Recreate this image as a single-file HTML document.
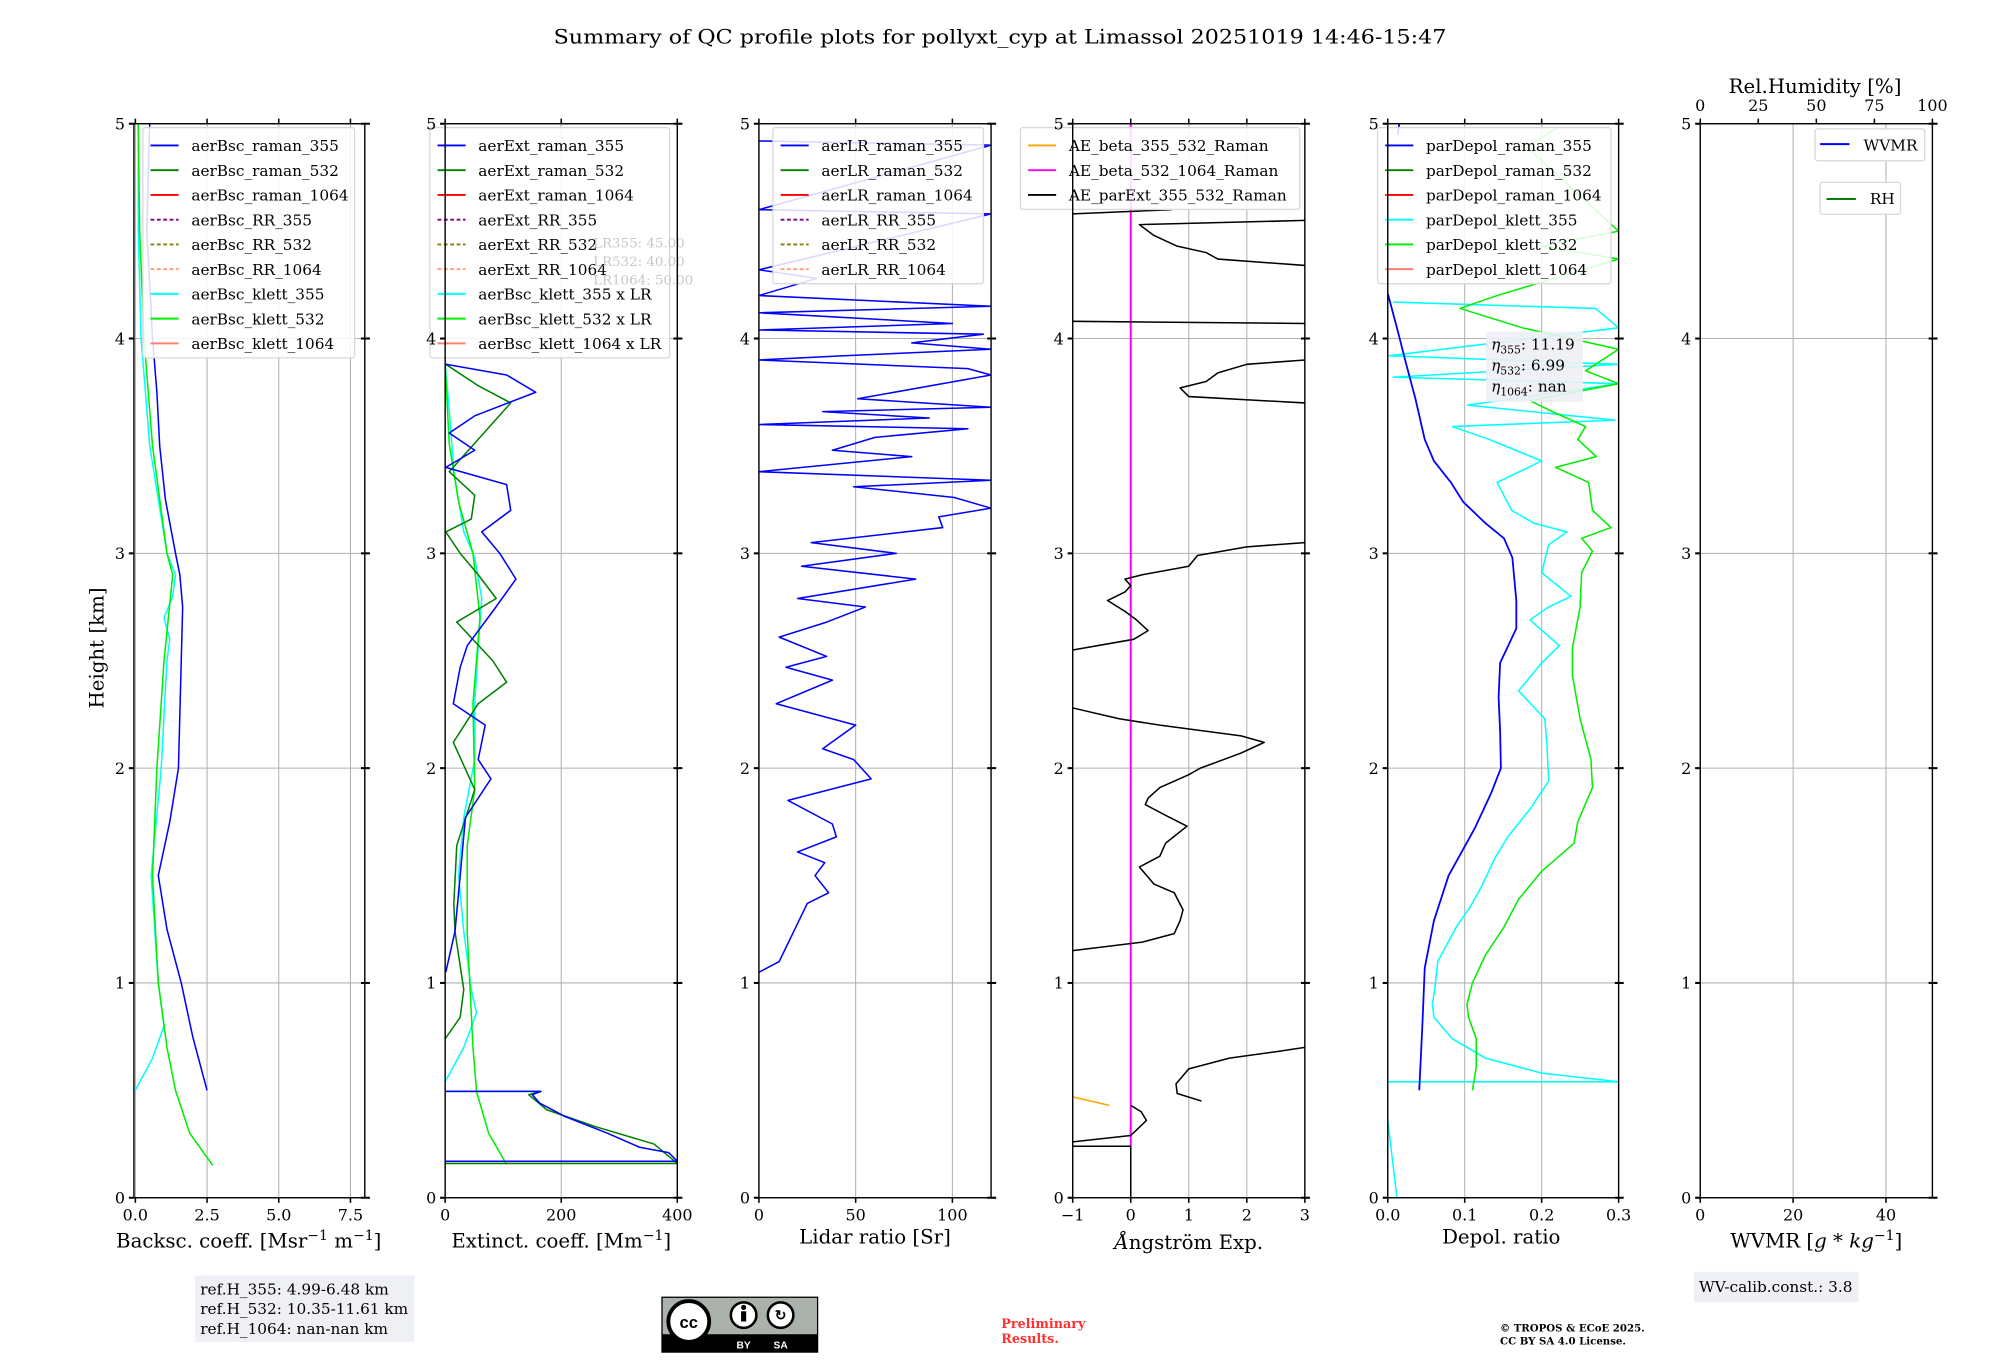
<!DOCTYPE html>
<html><head><meta charset="utf-8"><style>
html,body{margin:0;padding:0;background:#fff;}
svg{display:block;font-family:"DejaVu Serif","Liberation Serif",serif;}
</style></head><body>
<svg id="fig" width="2000" height="1360" viewBox="0 0 1568 1066.2" preserveAspectRatio="none" xmlns="http://www.w3.org/2000/svg">
<text x="784" y="34" font-size="15.5" text-anchor="middle" textLength="700" lengthAdjust="spacingAndGlyphs">Summary of QC profile plots for pollyxt_cyp at Limassol 20251019 14:46-15:47</text>
<text transform="translate(81,508) rotate(-90)" font-size="15.5" text-anchor="middle">Height [km]</text>
<g id="plots"></g>
<text x="1423" y="73" font-size="15.5" text-anchor="middle">Rel.Humidity [%]</text>
<text x="195" y="978" font-size="15.5" text-anchor="middle">Backsc. coeff. [Msr<tspan dy="-6" font-size="11">−1</tspan><tspan dy="6"> m</tspan><tspan dy="-6" font-size="11">−1</tspan><tspan dy="6">]</tspan></text>
<text x="440" y="978" font-size="15.5" text-anchor="middle">Extinct. coeff. [Mm<tspan dy="-6" font-size="11">−1</tspan><tspan dy="6">]</tspan></text>
<text x="686" y="975" font-size="15.5" text-anchor="middle">Lidar ratio [Sr]</text>
<text x="932" y="979" font-size="15.5" text-anchor="middle"><tspan font-style="italic">Å</tspan>ngström Exp.</text>
<text x="1177" y="975" font-size="15.5" text-anchor="middle">Depol. ratio</text>
<text x="1424" y="978" font-size="15.5" text-anchor="middle">WVMR [<tspan font-style="italic">g</tspan> * <tspan font-style="italic">kg</tspan><tspan dy="-6" font-size="11">−1</tspan><tspan dy="6">]</tspan></text>
<g>
<rect x="153" y="1000" width="172" height="52" fill="#eef0f5"/>
<text x="157" y="1015" font-size="12">ref.H_355: 4.99-6.48 km</text>
<text x="157" y="1030" font-size="12">ref.H_532: 10.35-11.61 km</text>
<text x="157" y="1046" font-size="12">ref.H_1064: nan-nan km</text>
</g>
<g>
<rect x="519" y="1017" width="122" height="43" fill="#aab2ab" stroke="#000" stroke-width="1"/>
<rect x="519" y="1046" width="122" height="14" fill="#000"/>
<circle cx="540" cy="1036" r="16" fill="#fff" stroke="#000" stroke-width="3"/>
<text x="540" y="1041" font-size="13" font-weight="bold" text-anchor="middle" font-family="Liberation Sans,sans-serif">cc</text>
<circle cx="583" cy="1031" r="10" fill="#fff" stroke="#000" stroke-width="2"/>
<circle cx="583" cy="1025" r="2" fill="#000"/><rect x="581" y="1028" width="4" height="8" fill="#000"/>
<circle cx="612" cy="1031" r="10" fill="#fff" stroke="#000" stroke-width="2"/>
<text x="612" y="1035" font-size="11" font-weight="bold" text-anchor="middle" font-family="Liberation Sans,sans-serif">↻</text>
<text x="583" y="1057" font-size="8" fill="#fff" text-anchor="middle" font-family="Liberation Sans,sans-serif" font-weight="bold">BY</text>
<text x="612" y="1057" font-size="8" fill="#fff" text-anchor="middle" font-family="Liberation Sans,sans-serif" font-weight="bold">SA</text>
</g>
<text x="785" y="1041" font-size="10" font-weight="bold" fill="#ff3030">Preliminary</text>
<text x="785" y="1053" font-size="10" font-weight="bold" fill="#ff3030">Results.</text>
<text x="1176" y="1044" font-size="8" font-weight="bold">© TROPOS &amp; ECoE 2025.</text>
<text x="1176" y="1054" font-size="8" font-weight="bold">CC BY SA 4.0 License.</text>
<g>
<rect x="1328" y="997" width="129" height="24" fill="#eef0f5"/>
<text x="1332" y="1013" font-size="12">WV-calib.const.: 3.8</text>
</g>
</svg>
<script>
// ---- data ----
const bscRaman355H=[0.5,0.75,1.0,1.25,1.5,1.75,2.0,2.25,2.5,2.75,2.9,3.0,3.25,3.5,3.75,4.0,4.25,4.5,4.75,5.0];
const bscRaman355V=[2.5,2.0,1.6,1.1,0.8,1.2,1.5,1.55,1.6,1.65,1.55,1.4,1.05,0.85,0.75,0.6,0.5,0.4,0.45,0.5];
const bscKlett355H=[0.5,0.65,0.8,1.0,1.5,2.0,2.5,2.6,2.7,2.8,2.9,3.0,3.5,4.0,4.5,5.0];
const bscKlett355V=[0.0,0.6,1.0,0.8,0.55,0.9,1.1,1.2,1.0,1.3,1.4,1.1,0.5,0.2,0.1,0.1];
const bscKlett532H=[0.15,0.3,0.5,0.7,1.0,1.5,2.0,2.5,2.9,3.0,3.5,4.0,4.5,5.0];
const bscKlett532V=[2.7,1.9,1.4,1.1,0.8,0.6,0.75,1.0,1.3,1.1,0.6,0.3,0.15,0.1];

const ext355H=[0.17,0.17,0.21,0.235,0.3,0.38,0.44,0.48,0.495,0.495,null,1.05,1.24,1.5,1.77,1.95,2.04,2.2,2.3,2.47,2.57,2.73,2.88,3.0,3.1,3.2,3.32,3.4,3.48,3.56,3.64,3.75,3.83,3.88];
const ext355V=[0,400,385,335,280,205,163,150,165,0,null,1,17,26,35,79,57,69,14,26,38,82,122,94,63,113,106,1,51,7,51,156,106,1];
const ext532H=[0.16,0.16,0.25,0.33,0.41,0.48,0.495,0.495,null,0.74,0.84,0.97,1.24,1.37,1.64,1.9,2.12,2.3,2.4,2.5,2.68,2.79,2.9,3.0,3.1,3.16,3.27,3.38,3.7,3.78,3.88];
const ext532V=[0,400,360,260,175,144,165,0,null,0,26,32,17,15,20,51,14,57,106,82,20,88,57,26,1,45,51,7,113,57,1];
const extKlett355H=[0.54,0.7,0.86,0.97,1.24,1.5,1.77,2.04,2.3,2.57,2.79,2.98,3.1,3.38,3.64,3.88];
const extKlett355V=[0,32,54,45,32,23,32,51,51,57,63,51,32,15,8,0];
const extKlett532H=[0.155,0.3,0.495,0.7,1.24,1.64,1.9,2.3,2.7,3.0,3.24,3.51,3.88];
const extKlett532V=[106,75,54,48,38,38,51,48,60,48,23,7,0];

const lr355H=[1.05,1.1,1.24,1.37,1.42,1.5,1.56,1.61,1.68,1.74,1.85,1.95,2.04,2.09,2.2,2.3,2.41,2.47,2.52,2.61,2.68,2.75,2.79,2.88,2.94,3.0,3.05,3.12,3.17,3.21,3.26,3.31,3.34,3.38,3.45,3.48,3.54,3.58,3.6,3.63,3.66,3.68,3.72,3.83,3.86,3.9,3.92,3.95,3.98,4.02,4.04,4.07,4.12,4.15,4.2,4.28,4.32,4.58,4.6,4.9,4.92];
const lr355V=[0,10.5,18,25,36,29,34,20,40,38,15,58,49,33,50,9,38,14,35,10.5,35,55,20,81,22,71,27,95,93,120,101,49,120,0,79,38,60,108,0,88,33,120,51,120,108,0,44,120,79,116,0,100,0,120,0,30,0,120,0,120,0];

const aeH=[0.0,0.24,0.24,null,0.26,0.29,0.36,0.4,0.43,null,0.45,0.485,0.53,0.6,0.65,0.68,0.7,null,1.15,1.19,1.23,1.29,1.34,1.42,1.46,1.54,1.59,1.65,1.73,1.78,1.83,1.86,1.91,1.97,2.0,2.07,2.12,2.15,2.2,2.23,2.28,null,2.55,2.6,2.64,2.69,2.73,2.78,2.82,2.85,2.88,2.9,2.94,2.99,3.03,3.05,null,3.7,3.73,3.77,3.8,3.84,3.88,3.9,null,4.08,4.07,null,4.34,4.37,4.4,4.43,4.48,4.53,4.55,null,4.58,4.6];
const aeV=[0.0,0.0,-1,null,-1,0.0,0.27,0.18,0.0,null,1.22,0.8,0.78,1.0,1.7,2.5,3,null,-1,0.2,0.75,0.85,0.9,0.75,0.4,0.15,0.5,0.6,0.97,0.6,0.25,0.3,0.5,1.0,1.2,1.9,2.3,1.9,0.5,-0.2,-1,null,-1,0.05,0.3,0.1,-0.1,-0.4,-0.1,0.0,-0.1,0.2,1.0,1.15,2.0,3,null,3,1.0,0.85,1.3,1.5,2.0,3,null,-1,3,null,3,1.5,1.3,0.8,0.4,0.15,3,null,-1,0.7];
const aeBeta355H=[0.47,0.43];
const aeBeta355V=[-1,-0.37];
const aeBeta532H=[0.24,5.0];
const aeBeta532V=[0,0];

const dep355H=[0.5,0.81,1.07,1.29,1.5,1.72,1.88,2.0,2.17,2.33,2.49,2.65,2.78,2.98,3.07,3.14,3.24,3.33,3.43,3.53,3.72,3.88,4.05,4.21,null,4.95,5.0];
const dep355V=[0.041,0.045,0.048,0.06,0.079,0.113,0.134,0.147,0.146,0.144,0.146,0.167,0.167,0.162,0.151,0.127,0.098,0.082,0.06,0.048,0.036,0.024,0.012,0,null,0.013,0.015];
const depK355H=[0,0.36,null,0.54,0.54,0.58,0.65,0.74,0.84,0.9,0.97,1.1,1.26,1.36,1.45,1.58,1.68,1.81,1.94,2.1,2.23,2.36,2.49,2.57,2.69,2.75,2.8,2.91,3.04,3.1,3.14,3.2,3.33,3.43,3.53,3.59,3.62,3.69,3.79,3.82,3.88,3.92,4.05,4.14,4.17];
const depK355V=[0.012,0,null,0,0.3,0.2,0.127,0.084,0.06,0.058,0.061,0.065,0.089,0.108,0.122,0.139,0.156,0.185,0.209,0.207,0.204,0.17,0.2,0.223,0.185,0.209,0.238,0.2,0.209,0.233,0.19,0.161,0.142,0.2,0.132,0.084,0.295,0.104,0.3,0.007,0.3,0.002,0.3,0.27,0.007];
const depK532H=[0.5,0.61,0.74,0.84,0.9,1.0,1.13,1.26,1.39,1.52,1.65,1.75,1.91,2.04,2.23,2.43,2.56,2.75,2.91,3.01,3.07,3.12,3.2,3.33,3.4,3.45,3.53,3.59,3.66,3.71,3.79,3.85,3.95,4.05,4.14,4.2,4.37,4.43,4.5,4.89,4.98];
const depK532V=[0.11,0.115,0.115,0.105,0.103,0.11,0.127,0.151,0.17,0.2,0.242,0.247,0.266,0.264,0.25,0.24,0.24,0.25,0.252,0.266,0.252,0.29,0.266,0.261,0.218,0.271,0.247,0.257,0.214,0.185,0.3,0.257,0.3,0.175,0.094,0.142,0.3,0.2,0.3,0.181,0.219];

// ---- axes config ----
const xTicks=[[0,2.5,5,7.5],[0,200,400],[0,50,100],[-1,0,1,2,3],[0,0.1,0.2,0.3],[0,20,40]];
const xTickLabels=[["0.0","2.5","5.0","7.5"],["0","200","400"],["0","50","100"],["−1","0","1","2","3"],["0.0","0.1","0.2","0.3"],["0","20","40"]];
const yTicks=[0,1,2,3,4,5];
const rhTicks=[0,25,50,75,100];

const NS="http://www.w3.org/2000/svg";
const root=document.getElementById('plots');
const panels=[{l:105,r:286,mn:-0.05,mx:8},{l:349,r:531,mn:0,mx:400},{l:595,r:777,mn:0,mx:120},{l:841,r:1023,mn:-1,mx:3},{l:1088,r:1269,mn:0,mx:0.3},{l:1333,r:1515,mn:0,mx:50}];
const TOP=97,BOT=939;
function yS(h){return BOT-(h/5)*(BOT-TOP);}
function xS(p,v){return p.l+(v-p.mn)/(p.mx-p.mn)*(p.r-p.l);}
function mk(tag,attrs,parent){const e=document.createElementNS(NS,tag);for(const k in attrs)e.setAttribute(k,attrs[k]);(parent||root).appendChild(e);return e;}

const panelNames=['backscatter','extinction','lidar-ratio','angstrom','depol','wvmr'];
const groups=[];
panels.forEach((p,i)=>{
  const g=mk('g',{});
  
  
  const cp=mk('clipPath',{id:'clip'+i},g);
  mk('rect',{x:p.l,y:TOP,width:p.r-p.l,height:BOT-TOP},cp);
  // grid
  xTicks[i].forEach(v=>{const x=xS(p,v);mk('line',{x1:x,x2:x,y1:TOP,y2:BOT,stroke:'#b0b0b0','stroke-width':0.8},g);});
  yTicks.forEach(h=>{mk('line',{x1:p.l,x2:p.r,y1:yS(h),y2:yS(h),stroke:'#b0b0b0','stroke-width':0.8},g);});
  groups.push(g);
});

function series(pi,H,V,color,name,w){
  const p=panels[pi];
  let d='',pen=false;
  for(let k=0;k<H.length;k++){
    if(H[k]===null||V[k]===null){pen=false;continue;}
    d+=(pen?'L':'M')+xS(p,V[k]).toFixed(1)+' '+yS(H[k]).toFixed(1);pen=true;
  }
  const e=mk('path',{d:d,fill:'none',stroke:color,'stroke-width':w||1.2,'clip-path':'url(#clip'+pi+')','stroke-linejoin':'round'},groups[pi]);
  
  
}
series(0,bscKlett355H,bscKlett355V,'#00ffff','bsc-klett-355');
series(0,bscKlett532H,bscKlett532V,'#00ee00','bsc-klett-532');
series(0,bscRaman355H,bscRaman355V,'#0000ff','bsc-raman-355');
series(1,extKlett355H,extKlett355V,'#00ffff','ext-klett-355');
series(1,extKlett532H,extKlett532V,'#00ee00','ext-klett-532');
series(1,ext532H,ext532V,'#008000','ext-raman-532');
series(1,ext355H,ext355V,'#0000ff','ext-raman-355');
series(2,lr355H,lr355V,'#0000ff','lr-raman-355');
series(3,aeBeta532H,aeBeta532V,'#ff00ff','ae-beta-532-1064',1.6);
series(3,aeBeta355H,aeBeta355V,'#ffa500','ae-beta-355-532');
series(3,aeH,aeV,'#000000','ae-parext-355-532');
series(4,depK355H,depK355V,'#00ffff','depol-klett-355');
series(4,depK532H,depK532V,'#00ee00','depol-klett-532');
series(4,dep355H,dep355V,'#0000ff','depol-raman-355',1.4);

function legend(pi,x,y,w,entries,name){
  const g=mk('g',{},groups[pi]);
  
  
  mk('rect',{x:x,y:y,width:w,height:entries.length*19.4+6,rx:2,fill:'#fff','fill-opacity':0.85,stroke:'#d8d8d8'},g);
  entries.forEach((en,k)=>{
    const yy=y+14+k*19.4;
    const a={x1:x+6,x2:x+28,y1:yy,y2:yy,stroke:en[1],'stroke-width':1.5};
    if(en[2])a['stroke-dasharray']='3,2';
    mk('line',a,g);
    const t=mk('text',{x:x+38,y:yy+4.5,'font-size':12},g);
    t.textContent=en[0];
  });
}
legend(0,112,100,166,[['aerBsc_raman_355','#0000ff'],['aerBsc_raman_532','#008000'],['aerBsc_raman_1064','#ff0000'],['aerBsc_RR_355','#800080',1],['aerBsc_RR_532','#808000',1],['aerBsc_RR_1064','#ffa07a',1],['aerBsc_klett_355','#00ffff'],['aerBsc_klett_532','#00ee00'],['aerBsc_klett_1064','#fa8072']],'backscatter-legend');
legend(1,337,100,188,[['aerExt_raman_355','#0000ff'],['aerExt_raman_532','#008000'],['aerExt_raman_1064','#ff0000'],['aerExt_RR_355','#800080',1],['aerExt_RR_532','#808000',1],['aerExt_RR_1064','#ffa07a',1],['aerBsc_klett_355 x LR','#00ffff'],['aerBsc_klett_532 x LR','#00ee00'],['aerBsc_klett_1064 x LR','#fa8072']],'extinction-legend');
legend(2,606,100,165,[['aerLR_raman_355','#0000ff'],['aerLR_raman_532','#008000'],['aerLR_raman_1064','#ff0000'],['aerLR_RR_355','#800080',1],['aerLR_RR_532','#808000',1],['aerLR_RR_1064','#ffa07a',1]],'lidar-ratio-legend');
legend(3,800,100,219,[['AE_beta_355_532_Raman','#ffa500'],['AE_beta_532_1064_Raman','#ff00ff'],['AE_parExt_355_532_Raman','#000000']],'angstrom-legend');
legend(4,1080,100,183,[['parDepol_raman_355','#0000ff'],['parDepol_raman_532','#008000'],['parDepol_raman_1064','#ff0000'],['parDepol_klett_355','#00ffff'],['parDepol_klett_532','#00ee00'],['parDepol_klett_1064','#fa8072']],'depol-legend');
// WVMR / RH legends
(function(){
  const g5=groups[5];
  const a=mk('g',{},g5);
  
  
  mk('rect',{x:1423,y:101,width:86,height:25,rx:2,fill:'#fff',stroke:'#d8d8d8'},a);
  mk('line',{x1:1427,x2:1450,y1:113,y2:113,stroke:'#0000ff','stroke-width':1.5},a);
  const t1=mk('text',{x:1461,y:118,'font-size':12},a);t1.textContent='WVMR';
  const b=mk('g',{},g5);
  
  
  mk('rect',{x:1427,y:143,width:63,height:25,rx:2,fill:'#fff',stroke:'#d8d8d8'},b);
  mk('line',{x1:1432,x2:1455,y1:156,y2:156,stroke:'#008000','stroke-width':1.5},b);
  const t2=mk('text',{x:1466,y:160,'font-size':12},b);t2.textContent='RH';
})();
// LR text box
(function(){
  const g=mk('g',{},groups[1]);
  
  
  ['LR355: 45.00','LR532: 40.00','LR1064: 50.00'].forEach((s,k)=>{const t=mk('text',{x:465,y:194+k*14.5,'font-size':10.5,fill:'#c8c8c8'},g);t.textContent=s;});
})();
// eta box
(function(){
  const g=mk('g',{},groups[4]);
  
  
  mk('rect',{x:1165,y:260,width:76,height:55,fill:'#eef0f5','fill-opacity':0.9},g);
  [['355',': 11.19'],['532',': 6.99'],['1064',': nan']].forEach((s,k)=>{
    const t=mk('text',{x:1169,y:274+k*16.5,'font-size':12},g);
    const a=document.createElementNS(NS,'tspan');a.setAttribute('font-style','italic');a.textContent='η';t.appendChild(a);
    const b=document.createElementNS(NS,'tspan');b.setAttribute('font-size','8.5');b.setAttribute('dy','3');b.textContent=s[0];t.appendChild(b);
    const c=document.createElementNS(NS,'tspan');c.setAttribute('dy','-3');c.textContent=s[1];t.appendChild(c);
  });
})();
// axes frames and ticks
panels.forEach((p,i)=>{
  const g=mk('g',{},groups[i]);
  
  
  mk('rect',{x:p.l,y:TOP,width:p.r-p.l,height:BOT-TOP,fill:'none',stroke:'#000','stroke-width':1.1},g);
  yTicks.forEach(h=>{
    const y=yS(h);
    mk('line',{x1:p.l-4,x2:p.l,y1:y,y2:y,stroke:'#000','stroke-width':1.6},g);
    mk('line',{x1:p.r-3,x2:p.r+4,y1:y,y2:y,stroke:'#000','stroke-width':1.6},g);
    const t=mk('text',{x:p.l-7,y:y+4.5,'font-size':12.5,'text-anchor':'end'},g);
    t.textContent=String(h);
  });
  xTicks[i].forEach((v,k)=>{
    const x=xS(p,v);
    mk('line',{x1:x,x2:x,y1:BOT,y2:BOT+4,stroke:'#000','stroke-width':1.2},g);
    if(i<5) mk('line',{x1:x,x2:x,y1:TOP-4,y2:TOP,stroke:'#000','stroke-width':1.2},g);
    const t=mk('text',{x:x,y:BOT+18,'font-size':12.5,'text-anchor':'middle'},g);
    t.textContent=xTickLabels[i][k];
  });
  if(i===5){
    rhTicks.forEach(v=>{
      const x=p.l+v/100*(p.r-p.l);
      mk('line',{x1:x,x2:x,y1:TOP-4,y2:TOP,stroke:'#000','stroke-width':1.2},g);
      const t=mk('text',{x:x,y:TOP-10,'font-size':12.5,'text-anchor':'middle'},g);
      t.textContent=String(v);
    });
  }
});
</script>
</body></html>
